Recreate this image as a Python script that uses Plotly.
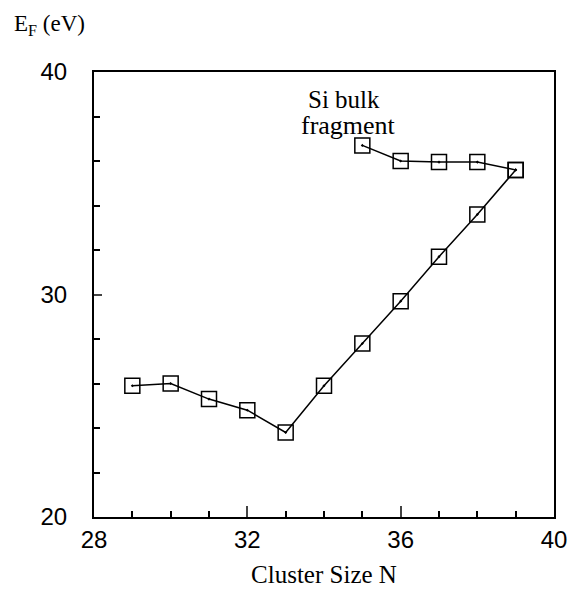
import plotly.graph_objects as go

n_main = [29, 30, 31, 32, 33, 34, 35, 36, 37, 38, 39]
ef_main = [25.9, 26.0, 25.3, 24.8, 23.8, 25.9, 27.8, 29.7, 31.7, 33.6, 35.6]
n_bulk = [35, 36, 37, 38, 39]
ef_bulk = [36.7, 36.0, 35.95, 35.95, 35.6]

x_ticks = [28, 32, 36, 40]
y_ticks = [20, 30, 40]

serif = "Liberation Serif"
sans = "Liberation Sans"

fig = go.Figure()
marker = dict(symbol="square-open-dot", size=15, color="black", line=dict(width=1.5, color="black"))
fig.add_trace(go.Scatter(x=n_main, y=ef_main, mode="lines+markers",
                         line=dict(color="black", width=1.5), marker=marker, showlegend=False))
fig.add_trace(go.Scatter(x=n_bulk, y=ef_bulk, mode="lines+markers",
                         line=dict(color="black", width=1.5), marker=marker, showlegend=False))

fig.update_layout(
    width=579, height=596,
    margin=dict(l=94, r=12, t=72, b=78),
    paper_bgcolor="white", plot_bgcolor="white",
    font=dict(family=serif, size=24, color="black"),
    xaxis=dict(range=[28, 40], tickvals=x_ticks, ticks="inside", ticklen=11, tickwidth=1.5,
               showgrid=False, zeroline=False, showline=True, linecolor="black", linewidth=2,
               mirror=True, tickfont=dict(family=sans, size=24),
               minor=dict(dtick=1, ticks="inside", ticklen=6, tickwidth=1.5, tickcolor="black"),
               title=dict(text="Cluster Size N", font=dict(family=serif, size=25), standoff=14)),
    yaxis=dict(range=[20, 40], tickvals=y_ticks, ticks="inside", ticklen=8, tickwidth=1.5,
               showgrid=False, zeroline=False, showline=True, linecolor="black", linewidth=2,
               mirror=True, tickfont=dict(family=sans, size=24), ticklabelstandoff=20,
               minor=dict(dtick=2, ticks="inside", ticklen=6, tickwidth=1.5, tickcolor="black")),
    annotations=[
        dict(text="E<sub>F</sub> (eV)", xref="paper", yref="paper", x=-0.178, y=1.105,
             xanchor="left", yanchor="middle", showarrow=False,
             font=dict(family=serif, size=23)),
        dict(text="Si bulk", x=34.52, y=38.75, xref="x", yref="y",
             xanchor="center", yanchor="middle", showarrow=False,
             font=dict(family=serif, size=25)),
        dict(text="fragment", x=34.64, y=37.6, xref="x", yref="y",
             xanchor="center", yanchor="middle", showarrow=False,
             font=dict(family=serif, size=26)),
    ],
)

fig.write_html("out.html")
